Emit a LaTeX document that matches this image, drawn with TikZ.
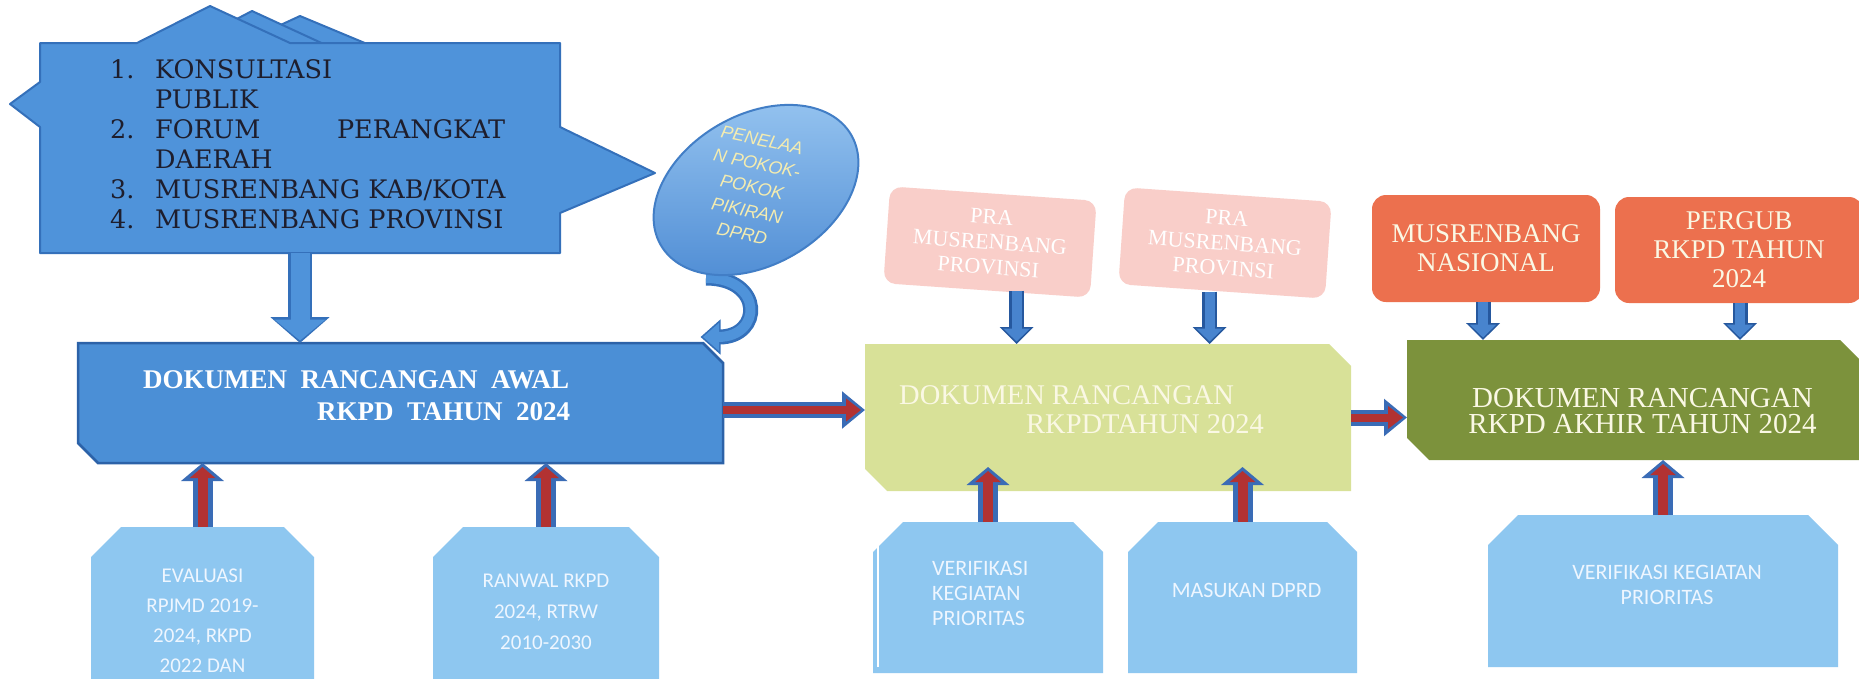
\documentclass[tikz,border=0pt]{standalone}
\usepackage{fontspec}
\setmainfont{Liberation Serif}
\newfontfamily\calibfont{Carlito}
\newfontfamily\arialfont{Liberation Sans}
\newfontfamily\listfont{DejaVu Serif}
\usetikzlibrary{arrows.meta,calc,positioning,shapes.geometric}
\pgfdeclarelayer{bg}
\pgfdeclarelayer{back}
\pgfsetlayers{bg,back,main}

\definecolor{callblue}{RGB}{79,147,218}
\definecolor{calledge}{RGB}{52,112,186}
\definecolor{calltext}{RGB}{30,30,45}
\definecolor{docblue}{RGB}{75,143,214}
\definecolor{docedge}{RGB}{44,98,168}
\definecolor{lightbox}{RGB}{142,199,240}
\definecolor{limebox}{RGB}{216,225,152}
\definecolor{olivebox}{RGB}{124,146,60}
\definecolor{orangebox}{RGB}{236,112,78}
\definecolor{pinkbox}{RGB}{249,206,201}
\definecolor{arrowred}{RGB}{178,50,50}
\definecolor{arrowedge}{RGB}{58,108,182}
\definecolor{dnfill}{RGB}{72,132,206}
\definecolor{dnedge}{RGB}{38,88,158}
\definecolor{creamtext}{RGB}{250,248,228}
\definecolor{bottomtext}{RGB}{238,246,255}
\definecolor{pokirtext}{RGB}{244,236,176}

% box outlines: doc = cut top-right/bottom-left, tab = cut top corners
\newcommand{\docshape}[3]{\path[#2] (#1.north west) -- ([xshift=-#3]#1.north east) -- ([yshift=-#3]#1.north east) -- (#1.south east) -- ([xshift=#3]#1.south west) -- ([yshift=#3]#1.south west) -- cycle;}
\newcommand{\tabshape}[3]{\path[#2] ([xshift=#3]#1.north west) -- ([xshift=-#3]#1.north east) -- ([yshift=-#3]#1.north east) -- (#1.south east) -- (#1.south west) -- ([yshift=-#3]#1.north west) -- cycle;}

\begin{document}
\begin{tikzpicture}[x=1pt,y=-1pt,
    boxnode/.style={rectangle,inner sep=0pt,outer sep=0pt},
    callshape/.style={fill=callblue,draw=calledge,line width=2pt,line join=round},
    calltxt/.style={inner sep=0pt,align=left,text=calltext,font=\listfont\fontsize{25.5pt}{30pt}\selectfont},
    doctxt/.style={inner sep=0pt,font=\fontsize{28.5pt}{29pt}\selectfont},
    prabox/.style={rectangle,rounded corners=12pt,fill=pinkbox,text=white,minimum width=207pt,minimum height=97pt,rotate=-4,align=center,inner sep=0pt,font=\fontsize{22pt}{25pt}\selectfont},
    nasbox/.style={rectangle,rounded corners=14pt,fill=orangebox,text=creamtext,align=center,inner sep=0pt,font=\fontsize{27pt}{29pt}\selectfont},
    bottxt/.style={inner sep=0pt,text=bottomtext},
    redout/.style={draw=arrowedge,line width=20pt,-{Triangle[length=18pt,width=42pt]}},
    redin/.style={draw=arrowred,line width=10pt,shorten >=4pt,-{Triangle[length=11pt,width=25pt]}},
    flatout/.style={draw=arrowedge,line width=16pt,-{Triangle[length=23pt,width=36pt]}},
    flatin/.style={draw=arrowred,line width=8pt,shorten >=4pt,-{Triangle[length=15pt,width=22pt]}},
    dnout/.style={draw=dnedge,line width=15pt,-{Triangle[length=17pt,width=33pt]}},
    dnin/.style={draw=dnfill,line width=10pt,shorten >=2.5pt,-{Triangle[length=13pt,width=26pt]}},
    stemout/.style={draw=calledge,line width=24pt,-{Triangle[length=26pt,width=58pt]}},
    stemin/.style={draw=callblue,line width=19pt,shorten >=2.5pt,-{Triangle[length=21pt,width=50pt]}},
    curveout/.style={draw=calledge,line width=15pt,-{Triangle[length=20pt,width=34pt]}},
    curvein/.style={draw=callblue,line width=10pt,shorten >=2.5pt,-{Triangle[length=16pt,width=27pt]}}]
  \useasboundingbox (0,0) rectangle (1859,678);
  \clip (0,0) rectangle (1859,678);
  \begin{pgfonlayer}{bg}
    \fill[white] (0,0) rectangle (1859,678);
  \end{pgfonlayer}

  % callout with the list
  \filldraw[callshape] (235,46) -- (300,16) -- (372,46) -- cycle;
  \filldraw[callshape] (185,46) -- (252,11) -- (328,46) -- cycle;
  \filldraw[callshape] (40,43) -- (137,43) -- (210,6) -- (290,43) -- (560,43) -- (560,127) -- (655,173)
    -- (560,213) -- (560,253) -- (40,253) -- (40,127) -- (10,104) -- (40,82) -- cycle;
  \node[boxnode,minimum width=520pt,minimum height=210pt] (konsul) at (300,148) {};
  \node[calltxt,below right=16pt and 70pt of konsul.north west] (konsultxt)
    {\makebox[45pt][l]{1.}KONSULTASI\\
     \hspace*{45pt}PUBLIK\\
     \makebox[45pt][l]{2.}\makebox[350pt]{FORUM\hfill PERANGKAT}\\
     \hspace*{45pt}DAERAH\\
     \makebox[45pt][l]{3.}MUSRENBANG KAB/KOTA\\
     \makebox[45pt][l]{4.}MUSRENBANG PROVINSI};

  % pokok pikiran disk
  \node[ellipse,minimum width=220pt,minimum height=150pt,rotate=30,inner sep=0pt,
        top color={rgb,255:red,150;green,196;blue,240},bottom color={rgb,255:red,78;green,140;blue,212},
        draw={rgb,255:red,66;green,126;blue,198},line width=2pt] (pokir) at (756,190) {};
  \node[rotate=-12,align=center,inner sep=0pt,text=pokirtext,
        font=\arialfont\itshape\fontsize{18pt}{24pt}\selectfont] (pokirtxt) at (752,187)
    {PENELAA\\N POKOK-\\POKOK\\PIKIRAN\\DPRD};

  % document boxes
  \node[boxnode,minimum width=645pt,minimum height=120pt] (awal) at (400.5,403) {};
  \docshape{awal}{fill=docblue,draw=docedge,line width=2.5pt}{20pt}
  \node[boxnode,minimum width=486pt,minimum height=147pt] (green) at (1108,417.5) {};
  \docshape{green}{fill=limebox}{22pt}
  \node[boxnode,minimum width=455pt,minimum height=120pt] (olive) at (1634.5,400) {};
  \docshape{olive}{fill=olivebox}{22pt}

  % input boxes below
  \node[boxnode,minimum width=223pt,minimum height=200pt] (evalbox) at (202.5,627) {};
  \node[boxnode,minimum width=226pt,minimum height=200pt] (ranwal) at (546,627) {};
  \node[boxnode,minimum width=230pt,minimum height=151pt] (verif) at (988,597.5) {};
  \node[boxnode,minimum width=229pt,minimum height=151pt] (masukan) at (1242.5,597.5) {};
  \node[boxnode,minimum width=350pt,minimum height=152pt] (verifkeg) at (1663,591) {};
  \foreach \b in {evalbox,ranwal,verif,masukan,verifkeg} {\tabshape{\b}{fill=lightbox}{30pt}}
  \draw[white,line width=2pt] ($(verif.north west)+(5,13)$) -- ($(verif.south west)+(5,-6)$);

  % boxes above
  \node[prabox] (pra1) at (990,242) {PRA\\MUSRENBANG\\PROVINSI};
  \node[prabox] (pra2) at (1225,243) {PRA\\MUSRENBANG\\PROVINSI};
  \node[nasbox,minimum width=228pt,minimum height=107pt] (nas) at (1486,248.5) {MUSRENBANG\\NASIONAL};
  \node[nasbox,minimum width=248pt,minimum height=106pt] (pergub) at (1739,250) {PERGUB\\RKPD TAHUN\\2024};

  % arrows
  \draw[stemout] (konsul.south) -- (konsul.south |- awal.north);
  \draw[stemin] (konsul.south) -- (konsul.south |- awal.north);
  \begin{pgfonlayer}{back}
    \draw[curveout] ($(pokir.center)+(-50,88)$) .. controls +(58,0) and +(62,0) .. ($(awal.north)+(300,-6)$);
    \draw[curvein] ($(pokir.center)+(-50,88)$) .. controls +(58,0) and +(62,0) .. ($(awal.north)+(300,-6)$);
  \end{pgfonlayer}
  \foreach \src/\dst in {evalbox/awal,ranwal/awal,verifkeg/olive} {
    \draw[redout] (\src.north) -- (\src.north |- \dst.south);
    \draw[redin] (\src.north) -- (\src.north |- \dst.south);
  }
  \foreach \src in {verif,masukan} {
    \draw[redout] (\src.north) -- ($(\src.north |- green.south)+(0,-24)$);
    \draw[redin] (\src.north) -- ($(\src.north |- green.south)+(0,-24)$);
  }
  \foreach \src/\dst/\dx in {pra1/green/30,pra2/green/-12,nas/olive/-3,pergub/olive/1} {
    \coordinate (\src foot) at ($(\src.south)+(\dx,0)$);
    \draw[dnout] (\src foot) -- (\src foot |- \dst.north);
    \draw[dnin] (\src foot) -- (\src foot |- \dst.north);
  }
  \coordinate (awalout) at ($(awal.east)+(0,7)$);
  \draw[flatout] (awalout) -- (awalout -| green.west);
  \draw[flatin] (awalout) -- (awalout -| green.west);
  \draw[flatout] (green.east) -- (green.east -| olive.west);
  \draw[flatin] (green.east) -- (green.east -| olive.west);

  % texts
  \node[doctxt,align=left,text=white,font=\bfseries\fontsize{27pt}{32pt}\selectfont,
        below right=27pt and 65pt of awal.north west] (awaltxt)
    {DOKUMEN\ \ RANCANGAN\ \ AWAL\\\hspace*{174pt}RKPD\ \ TAHUN\ \ 2024};
  \node[doctxt,align=left,text=creamtext,below right=41pt and 34pt of green.north west] (greentxt)
    {DOKUMEN RANCANGAN\\\hspace*{127pt}RKPDTAHUN 2024};
  \node[doctxt,align=center,text=creamtext,font=\fontsize{29pt}{26pt}\selectfont,
        below=48pt of olive.north,xshift=8pt] (olivetxt)
    {DOKUMEN RANCANGAN\\RKPD AKHIR TAHUN 2024};
  \node[bottxt,align=center,font=\calibfont\fontsize{21pt}{30pt}\selectfont,below=42pt of evalbox.north] (evaltxt)
    {EVALUASI\\RPJMD 2019-\\2024, RKPD\\2022 DAN};
  \node[bottxt,align=center,font=\calibfont\fontsize{21pt}{31pt}\selectfont,below=47pt of ranwal.north] (ranwaltxt)
    {RANWAL RKPD\\2024, RTRW\\2010-2030};
  \node[bottxt,align=left,font=\calibfont\fontsize{22pt}{25pt}\selectfont,below right=39pt and 59pt of verif.north west] (veriftxt)
    {VERIFIKASI\\KEGIATAN\\PRIORITAS};
  \node[bottxt,font=\calibfont\fontsize{22pt}{25pt}\selectfont,below=61pt of masukan.north,xshift=4pt] (masukantxt)
    {MASUKAN DPRD};
  \node[bottxt,align=center,font=\calibfont\fontsize{22pt}{25pt}\selectfont,below=50pt of verifkeg.north,xshift=4pt] (verifkegtxt)
    {VERIFIKASI KEGIATAN\\PRIORITAS};
\end{tikzpicture}
\end{document}
